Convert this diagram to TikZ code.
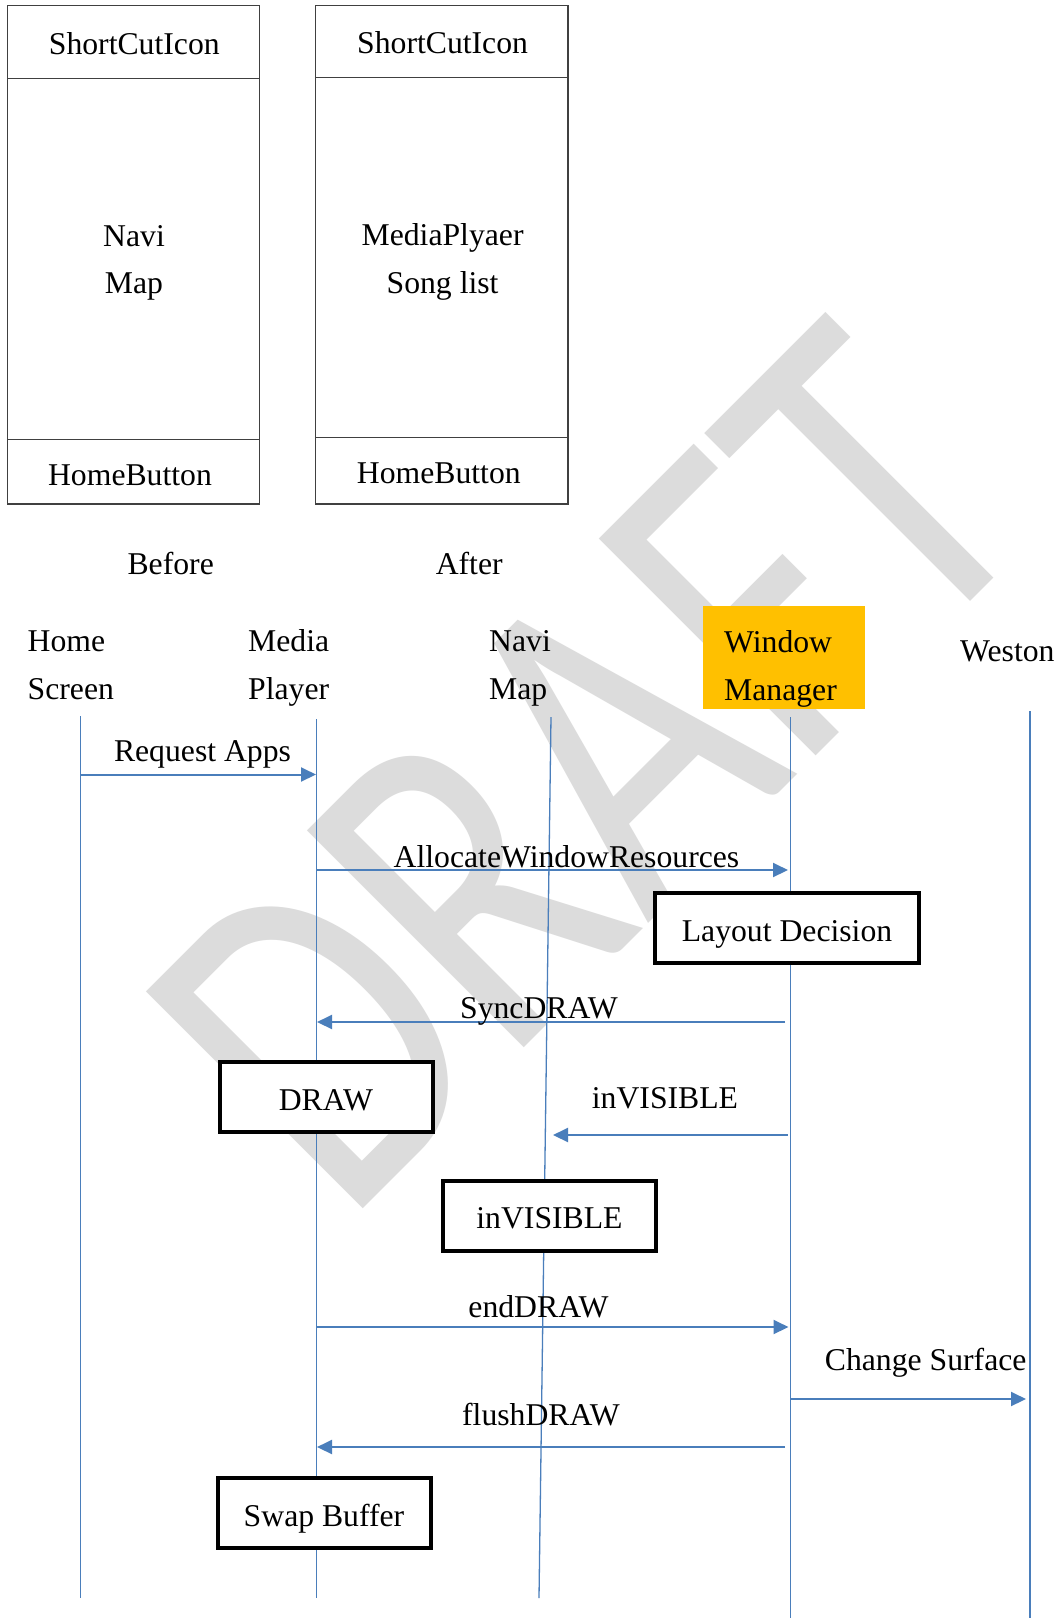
\documentclass[tikz,border=0pt]{standalone}
\usepackage{fontspec}
\setmainfont{Liberation Serif}
\newfontfamily\wmfont{Carlito}
\usetikzlibrary{arrows.meta}
\definecolor{lblue}{HTML}{4A7EBB}
\definecolor{wmgray}{RGB}{220,220,220}
\definecolor{wmorange}{HTML}{FFC000}
\definecolor{boxgray}{HTML}{404040}
\begin{document}
\begin{tikzpicture}[x=1pt,y=-1pt,
  txt/.style={font=\fontsize{31.7}{38}\selectfont, inner sep=0pt, anchor=base},
  txtl/.style={txt, anchor=base west},
  panel/.style={draw=boxgray, line width=1.2pt, fill=white, inner sep=0pt},
  thickbox/.style={draw=black, line width=4pt, fill=white, inner sep=0pt,
    font=\fontsize{31.7}{38}\selectfont, text height=30pt, text depth=4pt,
    minimum height=70pt, minimum width=213pt},
  life/.style={draw=lblue, line width=1.3pt},
  msg/.style={draw=lblue, line width=2pt, -{Triangle[length=15pt,width=14pt]}},
  wm/.style={font=\wmfont\fontsize{478}{478}\selectfont, text=wmgray, inner sep=0pt, transform shape}]
\useasboundingbox (0,0) rectangle (1061,1618);
\fill[white] (0,0) rectangle (1061,1618);

% watermark
\begin{scope}[shift={(345,1227)}, rotate=45, xscale=0.773]
  \node[wm, anchor=base west] (wmtext) at (0,0) {DRAFT};
\end{scope}

% top panels: before
\node[panel, minimum width=251.8pt, minimum height=73.1pt] (b1top) at (133.6,42.25) {};
\node[panel, minimum width=251.8pt, minimum height=360.5pt] (b1mid) at (133.6,259.05) {};
\node[panel, minimum width=251.8pt, minimum height=64.7pt] (b1bot) at (133.6,471.65) {};
\node[txt] (b1t) at (134.3,54.7) {ShortCutIcon};
\node[txt] (b1m1) at (134,246.8) {Navi};
\node[txt] (b1m2) at (134,293.9) {Map};
\node[txt] (b1b) at (130,485.3) {HomeButton};
% after
\node[panel, minimum width=252.3pt, minimum height=72pt] (b2top) at (441.85,41.7) {};
\node[panel, minimum width=252.3pt, minimum height=359.7pt] (b2mid) at (441.85,257.55) {};
\node[panel, minimum width=252.3pt, minimum height=66.6pt] (b2bot) at (441.85,470.7) {};
\node[txt] (b2t) at (442.6,53.6) {ShortCutIcon};
\node[txt] (b2m1) at (442.6,245) {MediaPlyaer};
\node[txt] (b2m2) at (442.6,293) {Song list};
\node[txt] (b2b) at (438.8,483) {HomeButton};

\node[txt] (before) at (170.7,574) {Before};
\node[txt] (after) at (469.2,574) {After};

% headers
\node[txtl] (hs1) at (27.5,651.7) {Home};
\node[txtl] (hs2) at (27.5,699.5) {Screen};
\node[txtl] (mp1) at (248,651.7) {Media};
\node[txtl] (mp2) at (248,699.5) {Player};
\node[txtl] (nv1) at (489,651.7) {Navi};
\node[txtl] (nv2) at (489,699.5) {Map};
\node[fill=wmorange, minimum width=162pt, minimum height=103pt, inner sep=0pt] (wmbox) at (784,657.5) {};
\begin{scope}
  \clip (wmbox.north west) rectangle (wmbox.south east);
  \node[txtl] (wm1) at (724,652) {Window};
  \node[txtl] (wm2) at (724,700) {Manager};
\end{scope}
\node[txtl] (ws1) at (960,661) {Weston};

% lifelines
\coordinate (hsT) at (80.5,716);   \coordinate (hsB) at (80.5,1598);
\coordinate (mpT) at (316.5,719);  \coordinate (mpB) at (316.5,1598);
\coordinate (nvT) at (551,717);    \coordinate (nvB) at (539,1598);
\coordinate (wmT) at (790.5,717);  \coordinate (wmB) at (790.5,1618);
\coordinate (wsT) at (1030,711);   \coordinate (wsB) at (1030,1618);
\draw[life] (hsT) -- (hsB);
\draw[life] (mpT) -- (mpB);
\draw[life] (nvT) -- (nvB);
\draw[life] (wmT) -- (wmB);
\draw[life] (wsT) -- (wsB);

% messages
\coordinate (m1a) at (80.5,774.5);  \coordinate (m1b) at (316,774.5);
\coordinate (m2a) at (316.5,870);   \coordinate (m2b) at (788,870);
\coordinate (m3a) at (785,1022);    \coordinate (m3b) at (317,1022);
\coordinate (m4a) at (787.5,1135);  \coordinate (m4b) at (553,1135);
\coordinate (m5a) at (316.5,1327);  \coordinate (m5b) at (788.5,1327);
\coordinate (m6a) at (790.5,1399);  \coordinate (m6b) at (1026,1399);
\coordinate (m7a) at (785,1447);    \coordinate (m7b) at (317,1447);
\draw[msg] (m1a) -- (m1b);
\draw[msg] (m2a) -- (m2b);
\draw[msg] (m3a) -- (m3b);
\draw[msg] (m4a) -- (m4b);
\draw[msg] (m5a) -- (m5b);
\draw[msg] (m6a) -- (m6b);
\draw[msg] (m7a) -- (m7b);
\node[txt] (l1) at (202.5,761) {Request Apps};
\node[txt] (l2) at (566.5,867) {AllocateWindowResources};
\node[txt] (l3) at (539,1018) {SyncDRAW};
\node[txt] (l4) at (665,1108) {inVISIBLE};
\node[txt] (l5) at (538.5,1317) {endDRAW};
\node[txt] (l6) at (925.7,1370.7) {Change Surface};
\node[txt] (l7) at (541,1425) {flushDRAW};

% activity boxes
\node[thickbox, minimum width=264pt] (layout) at (787,928) {Layout Decision};
\node[thickbox] (draw) at (326,1097) {DRAW};
\node[thickbox] (invis) at (549.5,1215.5) {inVISIBLE};
\node[thickbox] (swap) at (324,1513) {Swap Buffer};
\end{tikzpicture}
\end{document}
